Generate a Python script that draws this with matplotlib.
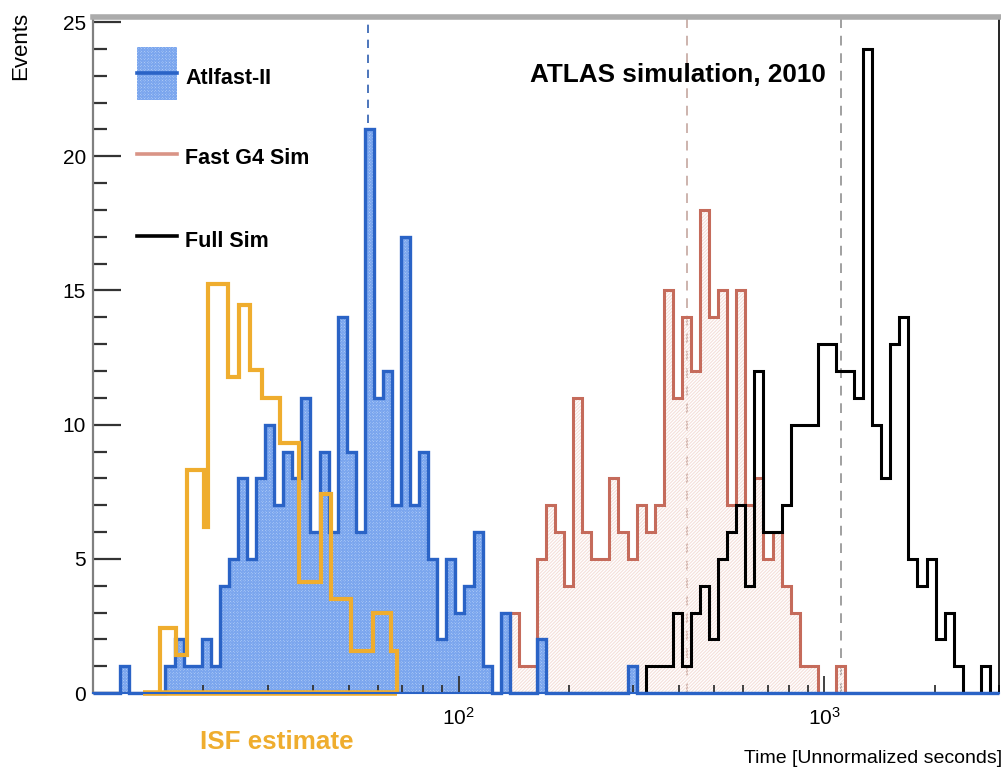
import numpy as np
import matplotlib
matplotlib.use("Agg")
import matplotlib.pyplot as plt
from matplotlib.lines import Line2D
from matplotlib.patches import Rectangle
from matplotlib.ticker import FixedLocator, LogLocator, NullFormatter, MultipleLocator, LogFormatterSciNotation

plt.rcParams['font.family'] = ['Liberation Sans', 'DejaVu Sans']
plt.rcParams['hatch.linewidth'] = 0.8

# binning: 100 log bins between 10 s and 3000 s
t_min, t_max, n_bins = 10.0, 3000.0, 100
edges = np.logspace(np.log10(t_min), np.log10(t_max), n_bins + 1)

# counts per bin, given from the first non-empty bin
atlfast_first = 3
atlfast_counts = [1, 0, 0, 0, 0, 1, 2, 1, 1, 2, 1, 4, 5, 8, 5, 8, 10, 7, 9, 8,
                  11, 6, 9, 6, 14, 9, 6, 21, 11, 12, 7, 17, 7, 9, 5, 2, 5, 3, 4, 6,
                  1, 0, 3, 0, 0, 0, 2, 0, 0, 0, 0, 0, 0, 0, 0, 0, 1]
fastg4_first = 46
fastg4_counts = [3, 1, 1, 5, 7, 6, 4, 11, 6, 5, 5, 8, 6, 5, 7, 6, 7, 15, 11, 14,
                 12, 18, 14, 15, 7, 15, 7, 8, 5, 6, 4, 3, 1, 1, 0, 0, 1]
fullsim_first = 61
fullsim_counts = [1, 1, 1, 3, 1, 3, 4, 2, 5, 6, 7, 4, 12, 6, 6, 7, 10, 10, 10, 13,
                  13, 12, 12, 11, 24, 10, 8, 13, 14, 5, 4, 5, 2, 3, 1, 0, 0, 1]

# ISF estimate (own, coarser steps)
isf_edges = [13.7, 15.2, 16.9, 18.1, 20.1, 20.6, 23.4, 25.0, 26.9, 29.0, 32.5,
             36.6, 42.1, 44.7, 50.7, 58.4, 65.3, 67.8]
isf_values = [0, 2.44, 1.42, 8.31, 6.2, 15.24, 11.79, 14.46, 12.04, 11.0, 9.3,
              4.15, 7.4, 3.5, 1.55, 3.0, 1.55]

# mean markers
mean_atlfast = 56.4
mean_fastg4 = 420
mean_fullsim = 1110

labels = ['Atlfast-II', 'Fast G4 Sim', 'Full Sim']

def full(first, counts):
    h = np.zeros(n_bins)
    h[first:first + len(counts)] = counts
    return h

h_af = full(atlfast_first, atlfast_counts)
h_g4 = full(fastg4_first, fastg4_counts)
h_fs = full(fullsim_first, fullsim_counts)

c_blue = '#2a63c6'
c_red = '#c56b5b'
c_orange = '#efad2e'
af_face, af_hatch = '#c2d9f9', '#7ba6ee'

fig = plt.figure(figsize=(10.01, 7.72), dpi=100)
ax = fig.add_axes([93 / 1001, 78.9 / 772, 906 / 1001, 676.4 / 772])

# dashed mean lines
ax.axvline(mean_atlfast, color='#2f5fb0', lw=1.2, ls=(0, (5, 4)), zorder=0.5)
ax.axvline(mean_fastg4, color='#cdb3ad', lw=1.4, ls=(0, (5, 4)), zorder=0.5)
ax.axvline(mean_fullsim, color='#a0a0a0', lw=1.4, ls=(0, (5, 4)), zorder=0.5)

# fills
ax.stairs(h_g4, edges, fill=True, facecolor='none', edgecolor='#f5e0da',
          hatch='//////////', lw=0, zorder=0.8)
ax.stairs(h_af, edges, fill=True, facecolor=af_face, edgecolor=af_hatch,
          hatch='xxxxxxxxxxxx', lw=0, zorder=1)

# outlines
ax.stairs(h_g4, edges, color=c_red, lw=2.2, zorder=2)
ax.stairs(h_fs, edges, color='black', lw=2.2, zorder=2.1)
ax.stairs(h_af, edges, color=c_blue, lw=2.4, zorder=2.2, clip_on=False)
ax.stairs(isf_values, isf_edges, color=c_orange, lw=3.0, zorder=2.5, baseline=0)
ax.plot([isf_edges[0], isf_edges[-1]], [0, 0], color=c_orange, lw=4.0,
        zorder=2.5, clip_on=False, solid_capstyle='butt')

ax.set_xscale('log')
ax.set_xlim(t_min, t_max)
ax.set_ylim(0, 25.2)

ax.xaxis.set_major_locator(FixedLocator([100, 1000]))
ax.xaxis.set_major_formatter(LogFormatterSciNotation())
ax.xaxis.set_minor_locator(LogLocator(base=10, subs=np.arange(2, 10)))
ax.xaxis.set_minor_formatter(NullFormatter())
ax.yaxis.set_major_locator(MultipleLocator(5))
ax.yaxis.set_minor_locator(MultipleLocator(1))

ax.tick_params(axis='both', which='both', direction='in', colors='#333333',
               labelcolor='black', labelsize=15)
ax.tick_params(axis='y', which='major', length=20, width=1.6, pad=5)
ax.tick_params(axis='y', which='minor', length=10, width=1.6)
ax.tick_params(axis='x', which='major', length=12, width=1.3, pad=10, top=False)
ax.tick_params(axis='x', which='minor', length=6, width=1.3, top=False)

ax.spines['left'].set_color('#808080')
ax.spines['left'].set_linewidth(1.6)
ax.spines['top'].set_color('#ababab')
ax.spines['top'].set_linewidth(4)
ax.spines['right'].set_color('black')
ax.spines['right'].set_linewidth(1.2)
ax.spines['bottom'].set_color(c_blue)
ax.spines['bottom'].set_linewidth(1.5)

# legend, placed by hand like the ROOT TLegend
def ax_xy(px, py):
    return (px - 93) / 906, (693.1 - py) / 676.4

x0, y0 = ax_xy(137, 100)
x1, y1 = ax_xy(177, 47)
ax.add_patch(Rectangle((x0, y0), x1 - x0, y1 - y0, transform=ax.transAxes,
                       facecolor=af_face, edgecolor=af_hatch, hatch='xxxxxxxxxxxx',
                       lw=0, zorder=3))
leg_colors = [c_blue, '#d99486', 'black']
for i, (lab, col) in enumerate(zip(labels, leg_colors)):
    ly = [72.5, 154, 236][i]
    xa, ya = ax_xy(137, ly)
    xb, _ = ax_xy(177, ly)
    ax.add_line(Line2D([xa, xb], [ya, ya], transform=ax.transAxes, color=col,
                       lw=2.6, zorder=3.1))
    tx, ty = ax_xy(185, [84, 164, 247][i])
    ax.text(tx, ty, lab, transform=ax.transAxes, fontsize=15.5,
            fontweight='bold', va='baseline', ha='left')

tx, ty = ax_xy(530, 82)
ax.text(tx, ty, 'ATLAS simulation, 2010', transform=ax.transAxes,
        fontsize=18.8, fontweight='bold', va='baseline', ha='left')
fig.text(200 / 1001, (772 - 749) / 772, 'ISF estimate', color=c_orange,
         fontsize=18.7, fontweight='bold', va='baseline', ha='left')
fig.text(1002 / 1001, (772 - 763) / 772, 'Time [Unnormalized seconds]',
         fontsize=14, va='baseline', ha='right')
fig.text(21 / 1001, 1 - 12 / 772, 'Events', fontsize=16, rotation=90,
         va='top', ha='center')

fig.savefig('out.png', dpi=100)
